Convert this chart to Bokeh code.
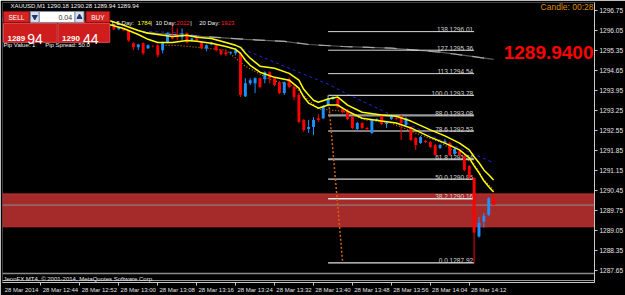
from bokeh.plotting import figure
from bokeh.models import Range1d, LinearAxis, FixedTicker, NumeralTickFormatter, Label, ColumnDataSource
from bokeh.core.properties import value
from bokeh.embed import file_html
from bokeh.resources import INLINE

# ---------------- data (XAUUSD M1, 28 Mar 2014, bar 0 = 12:36) ----------------
bar_index = list(range(102))
opens = [1296.40, 1296.48, 1296.44, 1296.36, 1296.45, 1296.54, 1296.47, 1296.38, 1296.31, 1296.40,
         1296.35, 1296.27, 1296.34, 1296.38, 1296.30, 1296.24, 1296.31, 1296.36, 1296.29, 1296.21,
         1296.27, 1296.25, 1296.19, 1296.23, 1296.09, 1296.12, 1296.05, 1295.60, 1295.46, 1295.60,
         1295.43, 1295.50, 1295.53, 1295.36, 1295.63, 1295.84, 1295.88, 1295.81, 1295.95, 1295.70,
         1295.77, 1295.63, 1295.43, 1295.56, 1295.53, 1295.36, 1295.29, 1295.25, 1295.25, 1295.25,
         1293.75, 1294.20, 1294.20, 1294.38, 1294.34, 1294.59, 1294.38, 1294.24, 1293.86, 1294.34,
         1294.07, 1293.79, 1292.92, 1292.60, 1292.67, 1292.98, 1292.98, 1293.44, 1293.65, 1293.65,
         1293.33, 1293.26, 1293.02, 1292.60, 1292.81, 1292.64, 1292.46, 1292.92, 1293.09, 1292.78,
         1292.95, 1292.98, 1293.05, 1292.74, 1292.67, 1292.29, 1292.11, 1292.18, 1292.15, 1292.04,
         1291.94, 1292.15, 1292.11, 1291.73, 1291.83, 1291.66, 1291.31, 1290.89, 1288.84, 1289.36,
         1289.60, 1290.18]
highs = [1296.52, 1296.55, 1296.50, 1296.47, 1296.58, 1296.60, 1296.51, 1296.44, 1296.42, 1296.46,
         1296.39, 1296.37, 1296.41, 1296.43, 1296.36, 1296.33, 1296.39, 1296.40, 1296.34, 1296.30,
         1296.33, 1296.31, 1296.28, 1296.26, 1296.19, 1296.14, 1296.07, 1295.64, 1295.58, 1295.63,
         1295.56, 1295.53, 1295.56, 1295.66, 1295.98, 1296.30, 1296.12, 1296.12, 1295.98, 1295.80,
         1295.80, 1295.66, 1295.56, 1295.66, 1295.56, 1295.39, 1295.36, 1295.32, 1295.43, 1295.28,
         1294.38, 1294.38, 1294.41, 1294.41, 1294.62, 1294.62, 1294.41, 1294.27, 1294.27, 1294.41,
         1294.10, 1293.86, 1292.95, 1292.92, 1293.02, 1293.12, 1293.44, 1293.78, 1293.77, 1293.70,
         1293.37, 1293.30, 1293.05, 1292.85, 1292.85, 1292.67, 1292.95, 1292.98, 1293.12, 1292.85,
         1293.12, 1293.02, 1293.09, 1293.02, 1292.70, 1292.32, 1292.36, 1292.22, 1292.18, 1292.08,
         1292.08, 1292.25, 1292.15, 1291.94, 1291.87, 1291.69, 1291.34, 1290.92, 1289.53, 1289.67,
         1290.22, 1290.28]
lows = [1296.36, 1296.41, 1296.33, 1296.32, 1296.42, 1296.45, 1296.35, 1296.29, 1296.28, 1296.33,
        1296.24, 1296.25, 1296.30, 1296.28, 1296.21, 1296.20, 1296.27, 1296.26, 1296.18, 1296.17,
        1296.22, 1296.16, 1296.15, 1296.06, 1296.06, 1296.03, 1295.66, 1295.36, 1295.36, 1295.20,
        1295.40, 1295.46, 1295.11, 1295.25, 1295.60, 1295.74, 1295.70, 1295.70, 1295.60, 1295.67,
        1295.67, 1295.40, 1295.32, 1295.53, 1295.32, 1295.18, 1295.15, 1295.22, 1295.18, 1293.72,
        1293.72, 1294.14, 1293.86, 1294.03, 1294.20, 1294.20, 1294.10, 1293.82, 1293.79, 1294.03,
        1293.61, 1292.80, 1292.50, 1292.46, 1292.39, 1292.85, 1292.95, 1293.40, 1293.61, 1293.33,
        1293.15, 1292.91, 1292.60, 1292.55, 1292.60, 1292.55, 1292.43, 1292.88, 1292.74, 1292.64,
        1292.92, 1292.92, 1292.22, 1292.70, 1292.18, 1291.87, 1292.08, 1292.11, 1291.94, 1291.66,
        1291.90, 1292.11, 1291.66, 1291.69, 1291.66, 1291.13, 1290.85, 1287.92, 1288.80, 1289.15,
        1289.56, 1289.94]
closes = [1296.48, 1296.44, 1296.36, 1296.45, 1296.54, 1296.47, 1296.38, 1296.31, 1296.40, 1296.35,
          1296.27, 1296.34, 1296.38, 1296.30, 1296.24, 1296.31, 1296.36, 1296.29, 1296.21, 1296.27,
          1296.25, 1296.19, 1296.23, 1296.09, 1296.16, 1296.05, 1295.70, 1295.46, 1295.56, 1295.25,
          1295.53, 1295.49, 1295.18, 1295.63, 1295.95, 1295.77, 1295.81, 1295.95, 1295.63, 1295.77,
          1295.70, 1295.43, 1295.53, 1295.63, 1295.36, 1295.22, 1295.22, 1295.29, 1295.36, 1293.79,
          1294.20, 1294.31, 1294.38, 1294.07, 1294.59, 1294.38, 1294.14, 1293.86, 1294.24, 1294.07,
          1293.72, 1292.85, 1292.57, 1292.67, 1292.92, 1292.92, 1293.40, 1293.68, 1293.72, 1293.37,
          1293.19, 1292.95, 1292.64, 1292.81, 1292.64, 1292.60, 1292.92, 1292.95, 1292.78, 1292.81,
          1293.09, 1292.95, 1292.81, 1292.98, 1292.22, 1292.04, 1292.32, 1292.15, 1291.97, 1291.69,
          1292.04, 1292.18, 1291.69, 1291.90, 1291.69, 1291.17, 1290.89, 1288.98, 1289.32, 1289.57,
          1290.18, 1289.94]

# envelope lines (yellow), blue dashed MA, grey MA, orange dotted MA
upper_idx = [22, 25, 28, 30, 32, 35, 38, 40, 43, 46, 48, 49, 50, 51, 53, 56, 59, 61, 62, 63, 64, 65,
             67, 69, 71, 74, 78, 81, 84, 88, 91, 94, 96, 97, 98, 99, 100, 101]
upper_val = [1296.40, 1296.23, 1296.05, 1295.95, 1295.91, 1295.84, 1295.88, 1295.81, 1295.77, 1295.63,
             1295.53, 1295.46, 1295.25, 1295.08, 1294.80, 1294.73, 1294.55, 1294.31, 1293.99, 1293.79,
             1293.61, 1293.54, 1293.65, 1293.72, 1293.44, 1293.19, 1293.09, 1293.05, 1292.88, 1292.57,
             1292.36, 1292.11, 1291.87, 1291.63, 1291.42, 1291.17, 1291.00, 1290.82]
lower_idx = [22, 25, 28, 30, 32, 35, 38, 40, 43, 46, 48, 49, 50, 51, 53, 56, 59, 61, 62, 63, 65, 67,
             69, 71, 74, 78, 81, 84, 88, 91, 94, 96, 97, 98, 99, 100, 101]
lower_val = [1296.26, 1296.12, 1295.91, 1295.74, 1295.63, 1295.63, 1295.70, 1295.67, 1295.60, 1295.49,
             1295.39, 1295.25, 1295.01, 1294.83, 1294.59, 1294.41, 1294.31, 1294.03, 1293.72, 1293.51,
             1293.33, 1293.44, 1293.44, 1293.23, 1292.98, 1292.88, 1292.81, 1292.64, 1292.32, 1292.11,
             1291.87, 1291.59, 1291.31, 1291.07, 1290.79, 1290.58, 1290.40]
blue_idx = [29, 35, 40, 47, 49, 55, 61, 67, 71, 78, 84, 90, 95, 101]
blue_val = [1296.02, 1295.98, 1295.88, 1295.60, 1295.43, 1295.01, 1294.59, 1294.17, 1293.82, 1293.26,
            1292.74, 1292.22, 1291.87, 1291.42]
grey_idx = [29, 35, 44, 50, 58, 63, 70, 80, 90, 95, 101]
grey_val = [1295.98, 1295.91, 1295.81, 1295.74, 1295.67, 1295.56, 1295.49, 1295.43, 1295.29, 1295.18, 1295.04]
orange_idx = [33, 36, 46, 50, 55, 60, 65, 70, 75, 80, 85, 90, 95, 97, 99, 101]
orange_val = [1295.53, 1295.53, 1295.36, 1294.80, 1294.34, 1294.10, 1293.30, 1293.23, 1292.91, 1292.81,
              1292.46, 1292.15, 1291.59, 1291.38, 1290.82, 1290.47]

# Fibonacci retracement
fib_start, fib_end = 67, 97
fib_anchor_idx = [67, 70]
fib_anchor_val = [1293.78, 1287.92]
fib_prices = [1296.01, 1295.36, 1294.54, 1293.78, 1293.08, 1292.53, 1291.54, 1290.85, 1290.16, 1287.92]
fib_labels = ["138 1296.01", "127 1295.36", "113 1294.54", "100.0 1293.78", "88.0 1293.08",
              "78.6 1292.53", "61.8 1291.54", "50.0 1290.85", "38.2 1290.16", "0.0 1287.92"]

zone_top, zone_bottom = 1290.33, 1289.18
bid_price = 1289.94

price_ticks = [1287.65, 1288.35, 1289.05, 1289.75, 1290.45, 1291.15, 1291.85, 1292.55, 1293.25,
               1293.95, 1294.65, 1295.35, 1296.05, 1296.75]
time_ticks = [0, 8, 16, 24, 32, 40, 48, 56, 64, 72, 80, 88, 96]
time_labels = ["28 Mar 2014", "28 Mar 12:44", "28 Mar 12:52", "28 Mar 13:00", "28 Mar 13:08",
               "28 Mar 13:16", "28 Mar 13:24", "28 Mar 13:32", "28 Mar 13:40", "28 Mar 13:48",
               "28 Mar 13:56", "28 Mar 14:04", "28 Mar 14:12"]

# ---------------- layout helpers (pixel -> data) ----------------
def mx(px):
    return (px - 1.5) / 4.9

def py(px):
    return 1296.75 - (px - 10) / 28.68

FONT = value("Liberation Sans")
XS, XE = mx(2), mx(598)

p = figure(width=625, height=295, x_range=Range1d(XS, XE), y_range=Range1d(py(283), py(2)),
           output_backend="svg", toolbar_location=None, x_axis_location=None, y_axis_location=None,
           min_border_left=2, min_border_top=2, min_border_right=0, min_border_bottom=0,
           background_fill_color="black", border_fill_color="black", outline_line_color=None)
p.xgrid.visible = False
p.ygrid.visible = False

yaxis = LinearAxis(ticker=FixedTicker(ticks=price_ticks), formatter=NumeralTickFormatter(format="0.00"),
                   axis_line_color="#c8c8c8", major_tick_line_color="#c8c8c8", major_tick_in=0,
                   major_tick_out=3, minor_tick_line_color=None, major_label_text_color="#e6e6e6",
                   major_label_text_font="Liberation Sans", major_label_text_font_size="6.5px",
                   major_label_standoff=2)
p.add_layout(yaxis, "right")

xaxis_ticks = LinearAxis(ticker=FixedTicker(ticks=time_ticks), axis_line_color="#c8c8c8",
                         major_tick_line_color="#c8c8c8", major_tick_in=0, major_tick_out=3,
                         minor_tick_in=0, minor_tick_out=0,
                         minor_tick_line_color=None, major_label_overrides={t: "" for t in time_ticks},
                         major_label_text_font_size="1px", major_label_standoff=0)
shifted = [t + 4 for t in time_ticks]
xaxis_labels = LinearAxis(ticker=FixedTicker(ticks=shifted), axis_line_color=None,
                          major_tick_line_color=None, minor_tick_line_color=None,
                          major_tick_in=0, major_tick_out=0, minor_tick_in=0, minor_tick_out=0,
                          major_label_overrides={s: lab for s, lab in zip(shifted, time_labels)},
                          major_label_text_color="#e0e0e0", major_label_text_font="Liberation Sans",
                          major_label_text_font_size="6px", major_label_standoff=1)
p.add_layout(xaxis_ticks, "below")
p.add_layout(xaxis_labels, "below")

# support / resistance zone and bid line
p.quad(left=[XS - 1], right=[XE + 1], top=[zone_top], bottom=[zone_bottom],
       fill_color="#a52a2a", line_color="#c83232", line_width=1)
p.line(x=[XS - 1, XE + 1], y=[bid_price, bid_price], line_color="#8c8c8c", line_width=1)

# moving averages behind candles
p.line(x=grey_idx, y=grey_val, line_color="#5c5c5c", line_width=1.2)
p.line(x=grey_idx, y=grey_val, line_color="#a8a8a8", line_width=1.2, line_dash="12 10")
p.line(x=blue_idx, y=blue_val, line_color="#2424e0", line_width=1, line_dash="3 3")
p.line(x=orange_idx, y=orange_val, line_color="#e07800", line_width=1.2, line_dash="1 2")

# fibonacci levels
fib_colors = ["#d8d8d8", "#d8d8d8", "#d8d8d8", "#c8c8c8", "#9a9a9a", "#a8a8a8", "#a8a8a8",
              "#d0d0d0", "#e4e4e4", "#e0e0e0"]
fib_widths = [1, 1, 1, 1.2, 2.3, 1.6, 2, 1.2, 1.6, 1.2]
p.segment(x0=[fib_start] * len(fib_prices), x1=[fib_end] * len(fib_prices), y0=fib_prices, y1=fib_prices,
          line_color=fib_colors, line_width=fib_widths)
p.text(x=[fib_end] * len(fib_prices), y=fib_prices, text=fib_labels, text_align="right",
       text_baseline="alphabetic", x_offset=-1, y_offset=-2, text_color="#d0d0d0",
       text_font=FONT, text_font_size="6.5px")
p.line(x=fib_anchor_idx, y=fib_anchor_val, line_color="#d26414", line_width=1.5, line_dash="2 2")

# candles
bull = [c >= o for o, c in zip(opens, closes)]
src = ColumnDataSource(dict(
    x=bar_index, h=highs, l=lows,
    top=[max(o, c) for o, c in zip(opens, closes)],
    bottom=[min(o, c) for o, c in zip(opens, closes)],
    color=["#1e90ff" if b else "#ff0000" for b in bull]))
p.segment(x0="x", y0="l", x1="x", y1="h", line_color="color", line_width=1, source=src)
p.vbar(x="x", width=0.6, top="top", bottom="bottom", fill_color="color", line_color=None, source=src)

# envelope lines
p.line(x=upper_idx, y=upper_val, line_color="#ffff00", line_width=1.5)
p.line(x=lower_idx, y=lower_val, line_color="#ffff00", line_width=1.5)

# bottom separators and copyright
p.line(x=[XS - 1, XE + 1], y=[py(274), py(274)], line_color="#8a8a8a", line_width=1.6)
p.line(x=[XS - 1, XE + 1], y=[py(281), py(281)], line_color="#9a9a9a", line_width=1)
p.text(x=[mx(3)], y=[py(279)], text=["JeonFX MT4, \u00a9 2001-2014, MetaQuotes Software Corp."],
       text_color="#e8e8e8", text_font=FONT, text_font_size="6px", text_baseline="middle")

def txt(x, y, s, color, size, align="left", baseline="middle", style="normal"):
    p.text(x=[mx(x)], y=[py(y)], text=[s], text_color=color, text_font=FONT, text_font_size=size,
           text_align=align, text_baseline=baseline, text_font_style=style)

# top info texts
txt(10, 6, "XAUUSD,M1  1290.18 1290.28 1289.94 1289.94", "#f0f0f0", "6px")
txt(112, 23, "L 5 Day:", "#f0f0f0", "6px")
txt(138, 23, "1784", "#ffff00", "6px")
txt(151, 23, "|", "#f0f0f0", "6px")
txt(156, 23, "10 Day:", "#f0f0f0", "6px")
txt(177, 23, "2022", "#ff2020", "6px")
txt(191, 23, "|", "#f0f0f0", "6px")
txt(200, 23, "20 Day:", "#f0f0f0", "6px")
txt(222, 23, "1923", "#ff2020", "6px")
txt(597, 7, "Candle: 00:28", "#de8c00", "8.5px", align="right")
txt(597, 52.5, "1289.9400", "#ff0000", "19px", align="right", style="bold")

# one-click trading panel
def box(x0, y0, x1, y1, fill, line):
    p.quad(left=[mx(x0)], right=[mx(x1)], top=[py(y0)], bottom=[py(y1)], fill_color=fill, line_color=line)

box(3, 11, 29, 22, "#d42424", "#8a1010")
box(30, 11, 39, 22, "#d8e0ec", "#8090a8")
box(39, 11, 75, 22, "#ffffff", "#8090a8")
box(75, 11, 84, 22, "#d8e0ec", "#8090a8")
box(86, 11, 110, 22, "#d42424", "#8a1010")
box(3, 23, 57, 42, "#cf1c1c", "#e04848")
box(58, 23, 110, 42, "#cf1c1c", "#e04848")
p.scatter(x=[mx(34.5)], y=[py(16.5)], marker="inverted_triangle", size=5, color="#1f3468")
p.scatter(x=[mx(79.5)], y=[py(16.5)], marker="triangle", size=5, color="#1f3468")
txt(16, 16.8, "SELL", "#ffffff", "6.5px", align="center")
txt(98, 16.8, "BUY", "#ffffff", "6.5px", align="center")
txt(72, 16.8, "0.04", "#303030", "7px", align="right")
txt(7, 38.5, "1289", "#ffffff", "8px", baseline="alphabetic", style="bold")
txt(27, 38.5, "94", "#ffffff", "14px", baseline="alphabetic")
txt(62, 38.5, "1290", "#ffffff", "8px", baseline="alphabetic", style="bold")
txt(83, 38.5, "44", "#ffffff", "14px", baseline="alphabetic")
txt(3, 45, "Pip Value: 1", "#f0f0f0", "6px")
txt(45, 45, "Pip Spread: 50.0", "#f0f0f0", "6px")

# current price tag on the price axis
p.add_layout(Label(x=XE, y=bid_price, x_offset=2, text="1289.94", text_color="black",
                   text_font="Liberation Sans", text_font_size="6.5px", text_baseline="middle",
                   background_fill_color="white", padding=1))

open("out.html", "w").write(file_html(p, INLINE))
